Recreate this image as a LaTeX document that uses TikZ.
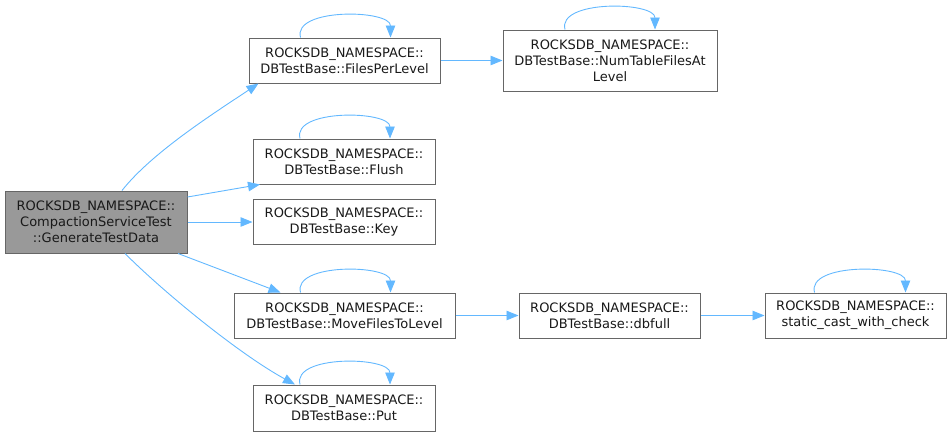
\documentclass[tikz,border=0pt]{standalone}
\usepackage{fontspec}
\setmainfont{DejaVu Sans}
\usetikzlibrary{arrows.meta,calc}
\definecolor{edgeblue}{HTML}{63B8FF}
\definecolor{boxborder}{HTML}{666666}
\definecolor{genfill}{HTML}{999999}
\tikzset{
  box/.style={draw=boxborder, line width=1pt, fill=white, align=center, inner sep=0pt,
    font=\fontsize{13}{16}\selectfont, text=black!90},
  edge/.style={draw=edgeblue, line width=0.9pt, -{Triangle[length=12pt,width=9.5pt]}},
}
\begin{document}
\begin{tikzpicture}[x=1pt,y=-1pt]
\useasboundingbox (0,0) rectangle (952,437);
\node[box, fill=genfill, minimum width=182pt, minimum height=62pt] (gen) at (96,222) {ROCKSDB\_NAMESPACE::\\CompactionServiceTest\\::GenerateTestData};
\node[box, minimum width=191pt, minimum height=45pt] (fpl) at (344.5,60.5) {ROCKSDB\_NAMESPACE::\\DBTestBase::FilesPerLevel};
\node[box, minimum width=214pt, minimum height=61pt] (ntf) at (610,60.5) {ROCKSDB\_NAMESPACE::\\DBTestBase::NumTableFilesAt\\Level};
\node[box, minimum width=182pt, minimum height=45pt] (flush) at (344,161.5) {ROCKSDB\_NAMESPACE::\\DBTestBase::Flush};
\node[box, minimum width=182pt, minimum height=45pt] (key) at (344,222) {ROCKSDB\_NAMESPACE::\\DBTestBase::Key};
\node[box, minimum width=221pt, minimum height=45pt] (mfl) at (344.5,315.5) {ROCKSDB\_NAMESPACE::\\DBTestBase::MoveFilesToLevel};
\node[box, minimum width=181pt, minimum height=45pt] (dbf) at (609.5,315.5) {ROCKSDB\_NAMESPACE::\\DBTestBase::dbfull};
\node[box, minimum width=181pt, minimum height=45pt] (sc) at (855.5,315.5) {ROCKSDB\_NAMESPACE::\\static\_cast\_with\_check};
\node[box, minimum width=182pt, minimum height=46pt] (put) at (344,408) {ROCKSDB\_NAMESPACE::\\DBTestBase::Put};

% edges from gen
\draw[edge] ([xshift=26pt]gen.north) .. controls +(30,-38) and +(-45,30) .. ([xshift=-86pt]fpl.south);
\draw[edge] ([yshift=25pt]gen.east) -- ([xshift=-84pt]flush.south);
\draw[edge] (gen.east) -- (key.west);
\draw[edge] ([xshift=82pt]gen.south) -- ([xshift=-64pt]mfl.north);
\draw[edge] ([xshift=29pt]gen.south) .. controls +(40,40) and +(-55,-30) .. ([xshift=-49pt]put.north);
% chains
\draw[edge] (fpl.east) -- (ntf.west |- fpl.east);
\draw[edge] (mfl.east) -- (dbf.west);
\draw[edge] (dbf.east) -- (sc.west);
% self loops
\foreach \n in {fpl,flush,mfl,put} {
  \draw[edge] ([xshift=-44pt]\n.north) .. controls +(-8,-30) and +(0,-28) .. ([xshift=46pt]\n.north);
}
\draw[edge] ([xshift=-45pt]ntf.north) .. controls +(-8,-30) and +(0,-28) .. ([xshift=45pt]ntf.north);
\draw[edge] ([xshift=-41pt]sc.north) .. controls +(-8,-30) and +(0,-28) .. ([xshift=50pt]sc.north);
\end{tikzpicture}
\end{document}
